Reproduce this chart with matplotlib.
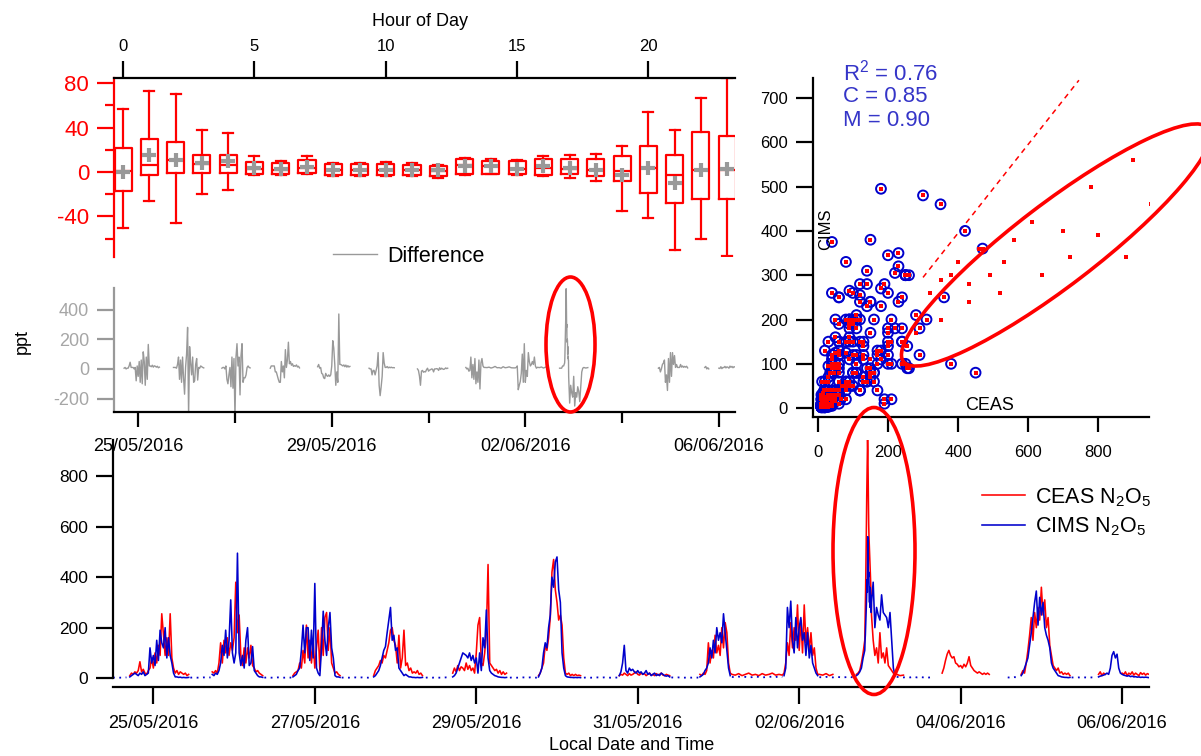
import matplotlib
matplotlib.use("Agg")
import matplotlib.pyplot as plt
import matplotlib.dates as mdates
from matplotlib.patches import Ellipse
import numpy as np
import pandas as pd

plt.rcParams["font.family"] = ["Liberation Sans", "DejaVu Sans"]
plt.rcParams["mathtext.fontset"] = "custom"
plt.rcParams["mathtext.rm"] = "Liberation Sans"
plt.rcParams["mathtext.it"] = "Liberation Sans:italic"
plt.rcParams["axes.unicode_minus"] = False

RED = "#ff0000"
BLUE = "#0000cc"
GREY = "#999999"
FIT_BLUE = "#3535c8"

# hour-of-day statistics of the CEAS - CIMS difference (ppt)
hours = list(range(24))
box_whishi = [57, 73, 70, 38, 35, 14, 10, 14, 8, 8, 9, 8, 6, 13, 12, 11, 14.7, 15.6, 16.5, 23.6, 54, 37.4, 66.5, 85]
box_q3 = [22, 30, 27, 15, 15, 9, 8, 11, 7, 7, 7, 6, 5, 11.7, 10, 9.6, 11.7, 11.7, 11.7, 14, 23.6, 15.3, 36, 32.6]
box_med = [1, 6, 11, 7, 6, 3, 2, 4, 1.5, 2, 1.5, 2, 1, 6, 5, 3, 4, 3, 2, 1, 4, -3, 2, 2]
box_q1 = [-17, -3, -1, -1, -1, -1.5, -1.5, -0.5, -3, -3, -3, -3, -4, -2, -1.5, -1.5, -3, -1.5, -3.3, -7.8, -19, -28, -24, -24]
box_whislo = [-50, -26, -46, -20, -16, -3, -2.5, -2, -4, -3.5, -4, -4, -5, -3, -2, -2.5, -3.5, -5.4, -7.8, -35, -41, -70, -60, -76]
box_mean = [0, 15, 11, 8, 9.5, 4, 3, 4.5, 2, 2, 1.5, 2, 1.5, 5, 5, 3, 5, 3.6, 2, -2.4, 4, -10, 2, 3]

# N2O5 time series: (start, step in minutes, values in ppt)
ceas_peak = [150, 210, 280, 350, 430, 520, 640, 720, 800, 880, 950, 900,
             780, 700, 610, 560, 530, 490, 460, 430, 400, 380, 350, 320]
cims_peak = [110, 150, 170, 200, 240, 260, 300, 340, 390, 340, 460, 560,
             500, 400, 420, 380, 330, 300, 360, 280, 330, 300, 290, 260]

ceas_segments = [
    ("2016-05-24 17:00", 30, [10, 20, 15, 25, 20, 30, 65, 25, 35, 20, 15, 30, 40, 80, 40, 100, 60, 130,
                              90, 255, 170, 90, 160, 90, 255, 80, 40, 20, 30, 15, 25, 20, 15, 20, 10, 15]),
    ("2016-05-25 17:30", 30, [25, 20, 30, 20, 60, 140, 60, 150, 100, 160, 90, 140, 110, 160, 380, 180,
                              250, 90, 50, 120, 60, 120, 80, 130, 50, 40, 25, 30, 20, 15, 10]),
    ("2016-05-26 17:30", 30, [10, 20, 25, 30, 60, 40, 110, 60, 210, 80, 150, 60, 150, 40, 120, 190, 30,
                              200, 90, 240, 260, 110, 200, 60, 40, 20, 25, 15, 10]),
    ("2016-05-27 17:30", 30, [10, 30, 40, 50, 70, 60, 90, 80, 110, 140, 190, 200, 150, 130, 60, 170, 40,
                              80, 190, 50, 60, 30, 40, 20, 25, 20, 30, 15, 20, 10]),
    ("2016-05-28 17:00", 30, [20, 40, 25, 50, 30, 45, 40, 30, 60, 35, 50, 30, 40, 20, 100, 210, 240, 60,
                              50, 100, 180, 450, 60, 50, 40, 30, 35, 20, 30, 15, 25, 15, 20]),
    ("2016-05-29 18:30", 30, [10, 20, 40, 60, 130, 110, 160, 240, 420, 470, 350, 300, 230, 250, 210, 80,
                              20, 15, 20, 10, 15, 10, 15, 10, 12, 10]),
    ("2016-05-30 18:30", 30, [10, 15, 12, 20, 15, 10, 18, 12, 15, 20, 25, 15, 12, 20, 15, 18, 10, 15, 20,
                              12, 15, 10, 18, 12, 15, 20, 12, 10, 15, 12, 10]),
    ("2016-05-31 18:30", 30, [15, 10, 20, 15, 30, 140, 60, 110, 80, 170, 100, 130, 90, 200, 120, 220,
                              180, 60, 20]),
    ("2016-06-01 04:00", 60, [15, 12, 18, 10, 15, 20, 12, 15, 10, 18, 12, 15, 20, 12, 15, 12]),
    ("2016-06-01 19:30", 30, [20, 60, 140, 90, 220, 120, 200, 150, 290, 110, 230, 100, 290, 140, 200,
                              110, 180, 90, 120, 40, 15]),
    ("2016-06-02 06:00", 60, [15, 12, 18, 10, 15]),
    ("2016-06-02 17:00", 30, [15, 20, 30, 60, 100]),
    ("2016-06-02 19:30", 5, ceas_peak),
    ("2016-06-02 21:30", 30, [250, 150, 90, 120, 60, 180, 80, 100, 60, 120, 50, 40, 30, 20, 15]),
    ("2016-06-03 05:00", 60, [15, 10, 12]),
    ("2016-06-03 18:30", 30, [20, 40, 70, 95, 110, 90, 80, 85, 60, 55, 45, 50, 40, 55, 45, 60, 85, 50,
                              40, 30, 25, 20, 25, 20, 15, 20, 15, 20, 15]),
    ("2016-06-04 18:00", 30, [15, 30, 20, 60, 110, 170, 240, 150, 260, 200, 280, 230, 360, 250, 310,
                              200, 240, 130, 90, 50, 40, 30, 40, 20, 25, 15, 20, 15, 20, 10]),
    ("2016-06-05 17:00", 30, [15, 25, 10, 20, 15]),
    ("2016-06-06 00:00", 30, [20, 15, 25, 10, 20, 15, 25, 12, 20, 15, 10, 22, 15, 20, 12, 18, 15]),
]

# hourly (60 min) CIMS segments are the sparse daytime data, drawn dotted
cims_segments = [
    ("2016-05-24 12:00", 60, [2, 3, 2, 2, 3]),
    ("2016-05-24 17:00", 30, [5, 10, 15, 20, 15, 10, 20, 15, 25, 10, 15, 20, 120, 60, 90, 50, 150, 70,
                              190, 140, 120, 200, 80, 160, 90, 60, 20, 5, 5, 3, 4, 2, 3, 2, 2, 3]),
    ("2016-05-25 11:00", 60, [2, 3, 2, 2, 3, 2, 3]),
    ("2016-05-25 17:30", 30, [15, 10, 20, 15, 30, 60, 130, 90, 190, 80, 150, 310, 100, 60, 100, 495,
                              100, 50, 90, 40, 150, 200, 50, 60, 125, 30, 20, 10, 5, 5, 3]),
    ("2016-05-26 09:00", 60, [2, 3, 2, 2, 3, 2, 2, 3, 2]),
    ("2016-05-26 17:30", 30, [5, 10, 15, 30, 40, 110, 210, 100, 200, 200, 70, 190, 80, 375, 40, 20, 10,
                              120, 265, 150, 90, 200, 260, 120, 80, 10, 5, 5, 3]),
    ("2016-05-27 08:00", 60, [2, 3, 2, 2, 3, 2, 3, 2, 2, 3]),
    ("2016-05-27 17:30", 30, [5, 10, 20, 30, 50, 80, 110, 125, 180, 230, 280, 150, 170, 110, 120, 40,
                              30, 20, 10, 15, 10, 5, 5, 3, 3, 2, 3, 2, 2, 3]),
    ("2016-05-28 09:00", 60, [2, 3, 2, 3, 2, 2, 3, 2]),
    ("2016-05-28 17:00", 30, [5, 10, 20, 40, 60, 80, 100, 95, 90, 80, 100, 70, 90, 60, 80, 20, 100, 30,
                              160, 120, 270, 80, 30, 20, 15, 10, 8, 5, 4, 3, 3, 2, 3]),
    ("2016-05-29 10:00", 60, [2, 3, 2, 2, 3, 2, 3, 2, 2]),
    ("2016-05-29 18:30", 30, [5, 20, 40, 100, 140, 120, 200, 250, 400, 360, 460, 480, 350, 300, 100, 40,
                              10, 5, 4, 3, 3, 2, 3, 2, 3, 2]),
    ("2016-05-30 08:00", 60, [2, 3, 2, 2, 3, 2, 3, 2, 2, 3, 2]),
    ("2016-05-30 18:30", 30, [10, 25, 60, 130, 30, 20, 40, 30, 35, 25, 20, 30, 20, 25, 15, 20, 30, 15,
                              20, 10, 15, 20, 10, 15, 10, 20, 15, 10, 8, 10, 5]),
    ("2016-05-31 10:00", 60, [3, 2, 3, 2, 2, 3, 2, 3, 2]),
    ("2016-05-31 18:30", 30, [5, 10, 15, 30, 40, 60, 120, 80, 150, 100, 200, 150, 180, 140, 255, 180,
                              110, 40, 10]),
    ("2016-06-01 04:00", 60, [5, 3, 6, 4, 5, 3, 4, 6, 5, 3, 4, 5, 6, 4, 8, 5]),
    ("2016-06-01 19:30", 30, [10, 40, 280, 200, 305, 150, 100, 240, 120, 200, 240, 150, 180, 90, 180, 80,
                              130, 60, 40, 20, 10]),
    ("2016-06-02 06:00", 60, [4, 3, 5, 4, 3, 5, 4, 3, 4, 5, 3]),
    ("2016-06-02 17:00", 30, [10, 15, 25, 40, 80]),
    ("2016-06-02 19:30", 5, cims_peak),
    ("2016-06-02 21:30", 30, [300, 380, 200, 280, 250, 230, 330, 260, 250, 240, 200, 260, 150, 40, 10]),
    ("2016-06-03 05:00", 60, [5, 4, 3, 4, 3, 5, 3, 4, 3, 2, 3, 4]),
    ("2016-06-04 14:00", 60, [3, 2, 4, 3]),
    ("2016-06-04 18:00", 30, [10, 20, 40, 60, 80, 130, 180, 240, 300, 345, 210, 320, 250, 300, 200, 170,
                              150, 120, 60, 40, 30, 20, 10, 8, 5, 4, 3, 3, 2, 3]),
    ("2016-06-05 09:00", 60, [3, 2, 3, 2, 3, 2, 3, 2]),
    ("2016-06-05 17:00", 30, [5, 8, 10, 12, 15, 20, 15, 40, 90, 105, 80, 95, 40, 20, 15, 12, 10, 8, 10,
                              6, 8, 5, 6, 4, 5, 3, 4, 3, 4, 3, 2]),
]

# points of the circled event left out of the fit (red only in the scatter)
excluded_start, excluded_end = "2016-06-02 19:30", "2016-06-02 21:30"
fit_slope, fit_intercept = 1.0, -5.0
fit_xrange = [300, 745]
fit_text = ["R$^2$ = 0.76", "C = 0.85", "M = 0.90"]

t_start, t_end = pd.Timestamp("2016-05-24 12:00"), pd.Timestamp("2016-06-06 08:00")


def build(segments):
    parts = [pd.Series(vals, index=pd.date_range(start, periods=len(vals), freq=f"{step}min"), dtype=float)
             for start, step, vals in segments]
    s = pd.concat(parts).sort_index()
    return s[~s.index.duplicated()]


def with_breaks(s, gap=pd.Timedelta("65min")):
    t = s.index.to_numpy()
    v = s.to_numpy(dtype=float)
    cut = np.where(np.diff(t) > gap)[0] + 1
    t = np.insert(t, cut, t[cut - 1] + np.timedelta64(1, "m"))
    v = np.insert(v, cut, np.nan)
    return t, v


ceas = build(ceas_segments)
cims = build(cims_segments)
cims_night = build([seg for seg in cims_segments if seg[1] < 60])
cims_day = build([seg for seg in cims_segments if seg[1] >= 60])
both = pd.concat({"ceas": ceas, "cims": cims}, axis=1, join="inner")
diff = both["ceas"] - both["cims"]
fit_mask = ~((both.index >= excluded_start) & (both.index < excluded_end))

W, H = 1201, 756
fig = plt.figure(figsize=(W / 100, H / 100), dpi=100)


def px_axes(left, top, right, bottom):
    return fig.add_axes([left / W, 1 - bottom / H, (right - left) / W, (bottom - top) / H])


ax_box = px_axes(114, 78, 735, 257)
ax_diff = px_axes(114, 288, 735, 412)
ax_ts = px_axes(113, 440, 1149, 687)
ax_sc = px_axes(813, 78, 1149, 417)

# --- hour of day box plot
stats = [dict(whislo=lo, q1=a, med=m, q3=b, whishi=hi, mean=mu, fliers=[])
         for lo, a, m, b, hi, mu in zip(box_whislo, box_q1, box_med, box_q3, box_whishi, box_mean)]
line = dict(color=RED, lw=1.6)
ax_box.bxp(stats, positions=hours, widths=0.65, capwidths=0.38, showmeans=True, showfliers=False,
           manage_ticks=False, boxprops=line, whiskerprops=line, capprops=line, medianprops=line,
           meanprops=dict(marker="+", markersize=10, markeredgecolor=GREY, markeredgewidth=3))
ax_box.set_xlim(-0.35, 23.3)
ax_box.set_ylim(-76.5, 84.6)
for side in ("bottom", "right"):
    ax_box.spines[side].set_visible(False)
ax_box.spines["left"].set_color(RED)
ax_box.spines["left"].set_linewidth(1.6)
ax_box.spines["top"].set_linewidth(1.6)
ax_box.xaxis.tick_top()
ax_box.set_xticks([0, 5, 10, 15, 20])
ax_box.tick_params(axis="x", length=12, width=1.6, labelsize=12, pad=5)
ax_box.set_yticks([-40, 0, 40, 80])
ax_box.set_yticks([-60, -20, 20, 60], minor=True)
ax_box.tick_params(axis="y", which="both", colors=RED, width=1.6, labelsize=16, pad=6)
ax_box.tick_params(axis="y", which="minor", length=6.5)
ax_box.tick_params(axis="y", which="major", length=12)
ax_box.patch.set_alpha(0)

# --- difference time series
td, vd = with_breaks(diff)
ax_diff.plot(td, vd, color=GREY, lw=1.0, label="Difference")
ax_diff.set_xlim(t_start, t_end)
ax_diff.set_ylim(-290, 545)
ax_diff.set_yticks([-200, 0, 200, 400])
for side in ("top", "right"):
    ax_diff.spines[side].set_visible(False)
ax_diff.spines["left"].set_color(GREY)
ax_diff.spines["left"].set_linewidth(1.6)
ax_diff.spines["bottom"].set_linewidth(1.6)
ax_diff.tick_params(axis="y", colors="#a6a6a6", length=12, width=1.6, labelsize=13, pad=6)
ax_diff.tick_params(axis="y", color=GREY)
ax_diff.set_xticks(pd.date_range("2016-05-25", "2016-06-06", freq="4D"))
ax_diff.set_xticks(pd.date_range("2016-05-25", "2016-06-06", freq="2D"), minor=True)
ax_diff.xaxis.set_major_formatter(mdates.DateFormatter("%d/%m/%Y"))
ax_diff.tick_params(axis="x", which="major", length=11, width=1.6, labelsize=13, pad=8)
ax_diff.tick_params(axis="x", which="minor", length=8, width=1.6)
ax_diff.legend(loc="center left", bbox_to_anchor=(333 / W, 1 - 256 / H), bbox_transform=fig.transFigure,
               frameon=False, fontsize=15.5, handlelength=2.05, handletextpad=0.45,
               borderpad=0, borderaxespad=0)

# --- CEAS and CIMS time series
tc, vc = with_breaks(ceas)
tn, vn = with_breaks(cims_night)
tdy, vdy = with_breaks(cims_day)
ax_ts.plot(tc, vc, color=RED, lw=1.15, label="CEAS N$_2$O$_5$")
ax_ts.plot(tn, vn, color=BLUE, lw=1.15, label="CIMS N$_2$O$_5$")
ax_ts.plot(tdy, vdy, color=BLUE, lw=1.3, linestyle=(0, (1, 2.5)))
ax_ts.set_xlim(t_start, t_end)
ax_ts.set_ylim(-35, 943)
ax_ts.set_yticks([0, 200, 400, 600, 800])
ax_ts.spines["left"].set_bounds(0, 943)
for side in ("top", "right"):
    ax_ts.spines[side].set_visible(False)
for side in ("left", "bottom"):
    ax_ts.spines[side].set_linewidth(1.6)
ax_ts.set_xticks(pd.date_range("2016-05-25", "2016-06-06", freq="2D"))
ax_ts.xaxis.set_major_formatter(mdates.DateFormatter("%d/%m/%Y"))
ax_ts.tick_params(axis="both", length=12, width=1.6, labelsize=13, pad=8)
ax_ts.tick_params(axis="y", labelsize=12.5, pad=6)
ax_ts.legend(loc="upper left", bbox_to_anchor=(982 / W, 1 - 486 / H), bbox_transform=fig.transFigure,
             frameon=False, fontsize=15.5, handlelength=2.0, handletextpad=0.45, labelspacing=0.3,
             borderpad=0, borderaxespad=0)
ax_ts.patch.set_alpha(0)

# --- CIMS vs CEAS scatter
fit_x = np.array(fit_xrange)
ax_sc.plot(fit_x, fit_slope * fit_x + fit_intercept, color=RED, lw=1.1, dashes=(3.5, 3), zorder=1)
ax_sc.scatter(both["ceas"][fit_mask], both["cims"][fit_mask], s=50, facecolors="none",
              edgecolors=BLUE, linewidths=1.4, zorder=2)
ax_sc.scatter(both["ceas"], both["cims"], s=6, marker="s", color=RED, linewidths=0, zorder=3)
ax_sc.set_xlim(-14, 945)
ax_sc.set_ylim(-20, 745)
ax_sc.set_xticks([0, 200, 400, 600, 800])
ax_sc.set_yticks(range(0, 701, 100))
for side in ("top", "right"):
    ax_sc.spines[side].set_visible(False)
for side in ("left", "bottom"):
    ax_sc.spines[side].set_linewidth(1.6)
ax_sc.tick_params(axis="both", length=12, width=1.6, labelsize=12, pad=6)
ax_sc.tick_params(axis="x", length=11, pad=9)
ax_sc.patch.set_alpha(0)

for i, txt in enumerate(fit_text):
    fig.text(843 / W, 1 - (73 + 23.5 * i) / H, txt, color=FIT_BLUE, fontsize=16, ha="left", va="center")
fig.text(826 / W, 1 - 229 / H, "CIMS", fontsize=12, rotation=90, ha="center", va="center")
fig.text(990 / W, 1 - 405 / H, "CEAS", fontsize=13, ha="center", va="center")

fig.text(420 / W, 1 - 22 / H, "Hour of Day", fontsize=13, ha="center", va="center")
fig.text(632 / W, 1 - 745 / H, "Local Date and Time", fontsize=13, ha="center", va="center")
fig.text(22 / W, 1 - 342 / H, "ppt", fontsize=13, rotation=90, ha="center", va="center")

# --- red ellipses marking the 2-3 June event, drawn in pixel space
ov = fig.add_axes([0, 0, 1, 1], zorder=10)
ov.set_xlim(0, W)
ov.set_ylim(H, 0)
ov.axis("off")
for (cx, cy), w, h, ang in [((1056, 245), 384, 82, -37.4), ((570.5, 344.5), 49, 135, 0),
                            ((874, 551), 82, 287, 0)]:
    ov.add_patch(Ellipse((cx, cy), w, h, angle=ang, fill=False, edgecolor=RED, lw=2.6, clip_on=False))

fig.savefig("out.png", dpi=100)
